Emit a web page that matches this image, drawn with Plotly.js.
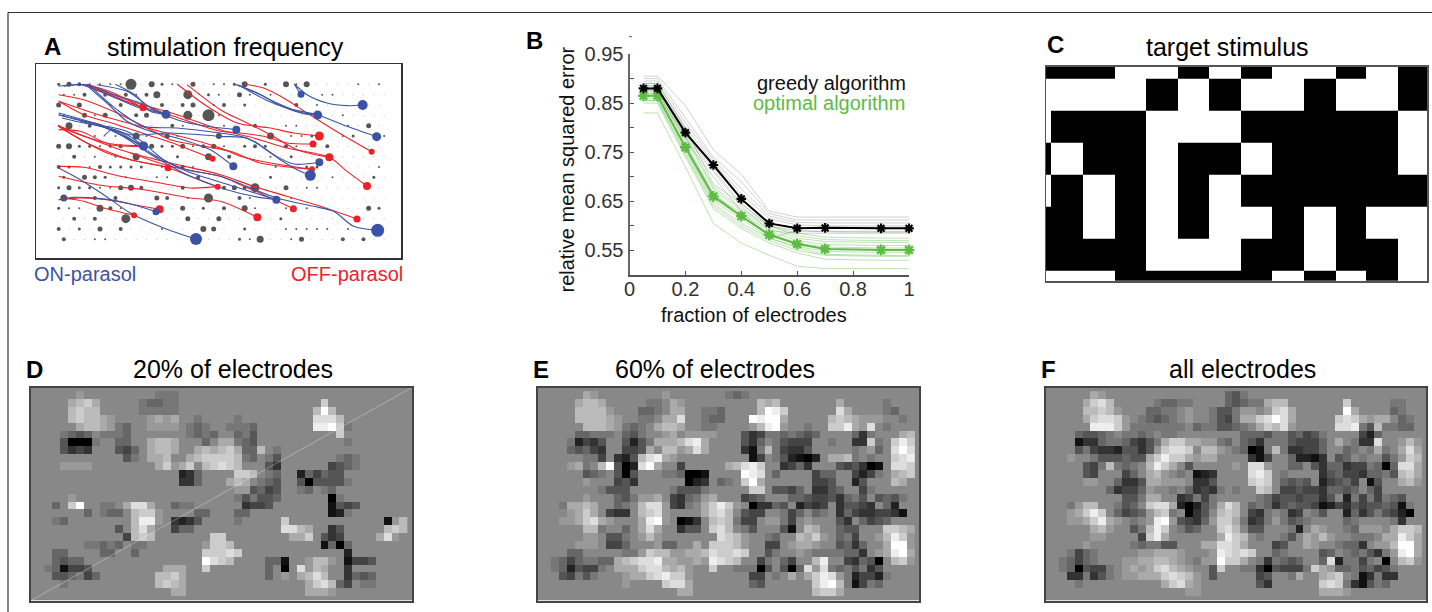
<!DOCTYPE html>
<html><head><meta charset="utf-8">
<script src="https://cdn.plot.ly/plotly-3.0.1.min.js"></script>
<style>html,body{margin:0;padding:0;background:#fff}#chart{width:1432px;height:612px}</style>
</head><body><div id="chart"></div>
<script>
// Panel A: electrode sizes per row (digit = size class), two offset lattices
const electrodeRows = [
"24311118052104011250205150000101",
"11303031360070210410100001100000",
"40400130203034013020000301000000",
"10414003400070910000000000010000",
"16030000000310101003001100001040",
"00010106104100050000601120012001",
"45221230042241341023203100300000",
"03010106010200603000102000000000",
"32013222201031000000010022000001",
"20432010011003000000200000100020",
"24221145300030003437004011000000",
"60030300043010700310001000000000",
"21106310000040203051001010000042",
"03030070000040040000020000000000",
"30204030001000540020001111101000",
"30011000000000000216001400030300"
];
const electrodeDiameter = [1.2,2,3,4,5,6,7,9,11,12];
// Panel A: retinal ganglion cell somas
const onSomaX  = [842,1027,892,437,648,1069,370,639,897,870,768,407,527,1072];
const onSomaY  = [224,256,286,284,330,351,379,440,428,467,540,576,658,632];
const onSomaD  = [7,10,9,9,8,9,9,8,8,11,8,7,12,13];
const offSomaX = [368,897,878,1054,927,577,443,875,1040,592,819,711,1010,418,341,368];
const offSomaY = [264,349,373,396,413,417,444,449,499,501,567,593,598,569,587,378];
const offSomaD = [7,9,7,6,8,6,7,6,8,6,7,8,7,8,6,8];
// Panel A: axon traces [x,y,x,y,...]
const onAxons = [
[822,193,835,215,842,224],
[822,193,860,225,920,250,980,258,1027,256],
[640,193,700,215,770,250,840,278,892,286],
[650,195,720,225,790,262,850,282,892,286],
[655,196,735,240,800,265,892,286,980,320,1069,351],
[130,200,200,195,280,225,360,250,437,284],
[115,200,180,195,270,228,350,262,437,284],
[285,194,350,230,390,275,437,284],
[230,195,320,215,400,270,470,300,560,320,648,330],
[205,195,290,270,370,320,470,325,600,340,660,350,710,370,760,405,820,433,897,428],
[115,280,250,318,330,345,450,340,600,350,680,355,730,385,780,420,840,455,870,467],
[208,205,260,250,320,305,390,335,470,355,570,390,639,440],
[115,285,170,300,240,315,300,345,370,379],
[125,295,190,310,250,322,310,350,370,379],
[250,350,275,330,320,345,370,379],
[115,285,240,318,300,345,400,410,500,465,620,510,700,530,768,540],
[180,305,300,340,400,405,500,455,640,500,768,540],
[260,320,330,340,430,420,500,450,600,470,770,535,880,560,940,575,1000,620,1072,632],
[115,540,160,533,240,537,320,550,407,576],
[115,445,180,480,250,525,330,580,430,625,527,658]
];
const offAxons = [
[200,194,280,220,368,265],
[195,195,270,225,330,250,368,264],
[470,193,560,260,650,310,750,325,820,340,897,349],
[500,195,600,270,680,310,750,345,830,390,927,413],
[675,194,730,205,790,235,860,280,940,330,1054,396],
[200,195,350,250,470,285,600,330,700,355,800,385,927,413,980,455,1040,499],
[190,195,330,250,460,290,600,335,660,340,730,350,800,370,878,373],
[115,245,250,290,400,330,500,355,600,385,660,410,750,430,875,449],
[115,245,190,285,290,315,380,345,470,375,577,417],
[115,320,190,365,260,400,350,425,442,443],
[115,320,190,350,270,372,368,378],
[115,330,180,335,270,375,368,380],
[115,320,200,370,330,420,430,440,510,470,592,501],
[330,400,450,440,600,470,660,495,730,525,819,567],
[115,318,300,390,450,430,600,465,700,500,800,530,900,560,1010,598],
[115,470,230,495,370,510,510,535,600,545,711,593],
[115,440,190,443,300,470,420,490,510,505,592,501],
[115,225,190,240,290,280,370,320,450,360,630,395,720,430,875,449],
[115,540,180,535,260,540,340,555,418,569],
[130,535,190,545,250,565,341,587]
];
// Panel B: fraction of electrodes vs error
const fractions = [0.05,0.1,0.2,0.3,0.4,0.5,0.6,0.7,0.9,1];
const greedyMean  = [.88,.88,.79,.724,.655,.605,.595,.596,.595,.595];
const optimalMean = [.865,.865,.76,.66,.62,.582,.563,.553,.551,.551];
const greedyRuns = [
[.905,.905,.845,.755,.705,.63,.618,.618,.618,.618],
[.90,.90,.82,.74,.69,.625,.612,.612,.612,.612],
[.895,.895,.81,.735,.675,.62,.607,.606,.606,.606],
[.89,.89,.80,.73,.665,.615,.602,.600,.600,.600],
[.885,.885,.795,.72,.655,.605,.595,.597,.597,.597],
[.88,.88,.785,.715,.645,.6,.59,.589,.589,.589],
[.875,.875,.775,.70,.63,.575,.59,.588,.587,.587],
[.87,.87,.78,.71,.64,.59,.585,.585,.585,.585]
];
const optimalRuns = [
[.89,.89,.80,.685,.645,.60,.585,.577,.575,.575],
[.885,.885,.785,.68,.635,.60,.58,.572,.57,.57],
[.88,.88,.78,.675,.63,.595,.575,.568,.566,.566],
[.875,.875,.77,.665,.625,.59,.57,.562,.56,.56],
[.87,.87,.765,.665,.62,.585,.565,.557,.555,.555],
[.865,.865,.76,.655,.62,.58,.565,.553,.552,.552],
[.86,.86,.755,.65,.615,.575,.558,.548,.546,.546],
[.855,.855,.75,.645,.605,.575,.555,.542,.54,.54],
[.855,.855,.745,.64,.60,.57,.55,.54,.538,.538],
[.85,.85,.74,.635,.595,.565,.545,.532,.53,.53],
[.83,.83,.72,.605,.565,.54,.518,.513,.513,.513]
];
const bTickVals = [.55,.6,.65,.7,.75,.8,.85,.9,.95];
const bTickText = ['0.55','','0.65','','0.75','','0.85','','0.95'];
const bXTicks = [0,.2,.4,.6,.8,1];
const bXText = ['0','0.2','0.4','0.6','0.8','1'];
// Panel C: target stimulus, 1 = black
const targetXEdges = [48,63,158,254,349,444,536,631,726,821,917,1008,1103,1190];
const targetYEdges = [140,176,271,367,463,559,655,751,783];
const targetRows = [
"1110010100101" ,
"0000101001001",
"0111000111110",
"1011011011110",
"0101010111111",
"1101010010100",
"1111000110110",
"0001111101010"
];
// Panels D, E, F: reconstructions; "col:hexlevels" runs, unlisted cells are mid grey (8)
const recon20 = [
"4:9 14:777","3:abca 12:76677 35:c","3:bcbb 11:877777 34:bfb","3:bcbba9 11:8 13:9a9a 18:87 24:7 34:dddb",
"4:abba9 9:76 13:9999 18:767 23:7776 34:eefc7","2:7656 7:7776 18:7676 24:675 37:c",
"2:50007 9:66 13:abba 19:86 22:aa765 38:7","2:5343 9:546 13:abba 19:ababca66 27:b 29:7",
"10:57 13:aab 18:abccccb76 28:75 37:767","2:9999 13:8ac9ac 20:bcdcb 28:53 36:4567",
"17:236 24:ccb 28:76 32:264655","17:336 23:aba 27:765 32:505555 38:7",
"24:9956 28:45 32:76 35:76","3:9 24:757556 36:07","1:68cf8 7:77 10:adda 16:677 25:3445 36:1545",
"0:8 4:86 7:766 11:bcc9 19:66 24:66 36:127","1:76 11:bee9 16:3235 24:7 30:c 43:19b",
"9:5 11:bda 16:466 30:ddba 35:8 36:35 43:bcb","10:4 11:bcb 21:cc 31:aac 35:534 42:ad9",
"5:77676 11:77 20:9ccb 35:1606","1:66 7:66 11:6 20:cccdc 38:2","1:6566 20:fdcb 28:6618 33:9bb9 38:1445",
"0:761445 15:aaa 20:c 28:6 30:0 32:d9ba 38:3","1:556746 14:bbca 28:6 30:9 32:abdb 38:3656",
"2:7888 14:bcba 33:acdb64 40:77","16:aa 33:aaa9"
];
const recon60 = [
"4:a9 14:98 21:8767","3:abba 12:778a9 20:888 26:bab 36:a 42:78","3:bbbb9 11:6678aa 19:7768 26:bfec 36:da 42:768",
"3:bbbba9 11:778aad 19:7668 25:feffa 35:bcba999 43:87","4:bbba9 9:767 13:abba 18:877 24:89bef9 32:7 35:ccea9d87",
"3:66777 9:657 13:89a 17:9999 24:5347767656 38:6378 44:ab","2:724358 9:5257 13:aaabdea 24:536 28:75444 35:7 38:33c7 43:cec",
"2:656438 9:445a 14:bb9ada 24:317b74335 38:7 40:96 43:dfd","3:8774 8:325bdea9 20:88 25:14 28:752102 35:aab7 40:7 43:cde",
"2:9a78bf502dfa8 16:4 22:abdec 29:3463 36:545301 43:ddc","4:567 8:505 13:8776 17:001 24:fed 28:6 33:466 38:4247 43:abc",
"4:9 8:453 17:023 21:678cfa 33:445 38:25 43:ba","6:7555 15:75557 25:cc 28:5546 33:3356 39:47",
"3:89 8:657 11:99a 15:43679a 24:456 30:665445 36:3675 41:5657",
"1:7aaba8 8:67 11:bdd9 15:437 19:acec9 25:03365 31:2434 36:35543 42:62",
"0:889aca 7:433 11:bcd9 19:acdb 24:5448 29:746 33:67 36:364334431",
"1:99acda9 11:aef9 16:013 20:bcb744 27:9974 32:9 36:53 39:6456",
"4:bb7 8:86 11:ada 16:355 20:cdb 24:75 28:8518ba 36:655 41:8ccba",
"4:99 7:55789b9 15:88 19:8 21:dcb9 27:76 31:bac9 36:674 41:9bec9",
"3:999 7:446 12:89668 18:a 20:cccb9 27:44 30:9aa9 36:5636 42:aff9",
"2:668 8:8779cbb99aabdccdc 27:57 30:8987777663 41:9aefa",
"0:76467766abcddeaa99a9edcb 26:47864 33:be 37:43650 42:8bc9",
"0:7625447 8:aaacddbab9 19:8c 22:8777058506d9d76757358",
"1:54757 9:9aacdecc9 25:44 28:78a 32:aced9724427",
"1:888 9:9 14:cdda 25:65 33:cefb71476","16:aa 33:bcca"
];
const reconAll = [
"4:a9 14:88 21:657","3:acdb 12:76677 20:865677abb 36:c 42:77","3:bbcb9 11:667789 19:755799 26:9cda 36:fa 42:67",
"3:acddc987656789 19:7547aacdfda 35:cdca9aa 43:678","4:eeec9 9:7777777867755678acbd9 35:dde75b7766",
"2:6556787767 13:778888 23:66657756457 38:42688","1:813367764357accaa9976 23:65377754446 35:a 37:733d8 43:9b9",
"1:857433255359cddc8bb9876017b733446 35:867 39:7a7 43:ada","1:9 4:7555655acecca9aa8 22:8 24:314 28:862213 35:5687 40:8579cb",
"3:547b767 11:beca 16:58 22:98dd9 29:66 32:53663447606dda","3:548 7:846 11:ab9878123 24:dec 28:7 33:3564436675bca",
"3:998 7:6335aa999 17:335 24:cdc 28:6565 33:245648158 43:ab9","6:634469 14:786343787 24:8cb 28:4454436656 39:648",
"3:88 8:557aa 14:8347478 23:8 25:7645545535 36:274747658","1:79bb8 7:756 11:cdda20257adb86763565541243545565178",
"0:89acec864569bc7 16:035 20:bcb84378734 32:75 36:2635754208","1:99acea9 9:7 11:9ef954369cca734797567 36:67 42:738",
"4:ab9 9:57bec8756 20:cdb855 28:8728a9 36:769998accb","4:99 10:4cea8 19:8aecb 25:7 28:75 31:a9b9 36:8777 41:aaeca",
"3:9 9:767755 18:aaddca 27:45 31:a9 35:7663899bffa","1:7467 10:99aaa9 19:9edcdc 27:67 33:568 36:7675379efa",
"0:76467 8:99aabba98799fcca 25:737656 33:6d27747808bc9","0:7605447 8:9a9acdba9 19:5c 22:8773054447ca966756457",
"1:337357 8:99aaacdcb9 19:5 25:45 28:87a8 33:abc87137338","1:8788 13:acda9 25:53888 33:cdc731576","16:99 33:aaa9"
];

const W = 1432, H = 612;
const dom = (a, b, n) => [a / n, b / n];
const ydom = (t, b) => [1 - b / H, 1 - t / H];
const FONT = '"Liberation Sans", Arial, sans-serif';
const BLUE = '#3b53a4', RED = '#ed2128', GREEN = '#5dbb46', DARK = '#565656', MID = '#888888';

function parseGrid(rows) {
  return rows.map(r => {
    const a = Array(46).fill(8);
    r.split(' ').filter(Boolean).forEach(run => {
      const [c, h] = run.split(':');
      [...h].forEach((ch, i) => { a[+c + i] = parseInt(ch, 16); });
    });
    return a;
  });
}
function pairs(a) {
  const x = [], y = [];
  for (let i = 0; i < a.length; i += 2) { x.push(a[i]); y.push(a[i + 1]); }
  return {x, y};
}
const data = [];
// Panel A
const ex = [], ey = [], es = [], ec = [];
electrodeRows.forEach((row, r) => {
  [...row].forEach((ch, k) => {
    ex.push((r % 2 ? 130.5 : 115) + 31 * k);
    ey.push(194 + 31 * r);
    es.push(electrodeDiameter[+ch]);
    ec.push(ch === '0' ? '#c4c4c4' : DARK);
  });
});
data.push({type:'scatter', mode:'markers', x:ex, y:ey, xaxis:'x', yaxis:'y', hoverinfo:'skip',
  marker:{size:es, color:ec, opacity:1, line:{width:0}}});
offAxons.forEach(a => { const p = pairs(a);
  data.push({type:'scatter', mode:'lines', x:p.x, y:p.y, xaxis:'x', yaxis:'y', hoverinfo:'skip',
    line:{color:RED, width:1.1, shape:'spline', smoothing:0.8}}); });
onAxons.forEach(a => { const p = pairs(a);
  data.push({type:'scatter', mode:'lines', x:p.x, y:p.y, xaxis:'x', yaxis:'y', hoverinfo:'skip',
    line:{color:BLUE, width:1.1, shape:'spline', smoothing:0.8}}); });
data.push({type:'scatter', mode:'markers', x:offSomaX, y:offSomaY, xaxis:'x', yaxis:'y', hoverinfo:'skip',
  marker:{size:offSomaD, color:RED, opacity:1, line:{width:0}}});
data.push({type:'scatter', mode:'markers', x:onSomaX, y:onSomaY, xaxis:'x', yaxis:'y', hoverinfo:'skip',
  marker:{size:onSomaD, color:BLUE, opacity:1, line:{width:0}}});
// Panel B
greedyRuns.forEach(v => data.push({type:'scatter', mode:'lines', x:fractions, y:v, xaxis:'x2', yaxis:'y2',
  hoverinfo:'skip', line:{color:'rgba(120,120,120,0.35)', width:1}}));
optimalRuns.forEach(v => data.push({type:'scatter', mode:'lines', x:fractions, y:v, xaxis:'x2', yaxis:'y2',
  hoverinfo:'skip', line:{color:'rgba(93,187,70,0.42)', width:1}}));
data.push({type:'scatter', mode:'lines+markers', x:fractions, y:optimalMean, xaxis:'x2', yaxis:'y2', cliponaxis:false,
  hoverinfo:'skip', line:{color:GREEN, width:2}, marker:{symbol:'asterisk-open', size:9, line:{color:GREEN, width:2.4}, color:GREEN}});
data.push({type:'scatter', mode:'lines+markers', x:fractions, y:greedyMean, xaxis:'x2', yaxis:'y2', cliponaxis:false,
  hoverinfo:'skip', line:{color:'#000', width:2}, marker:{symbol:'asterisk-open', size:8, line:{color:'#000', width:2.1}, color:'#000'}});
// Panel C
const BW = [[0,'#ffffff'],[1,'#000000']];
data.push({type:'heatmap', x:targetXEdges, y:targetYEdges, z:targetRows.map(r => [...r].map(Number)),
  xaxis:'x3', yaxis:'y3', colorscale:BW, zmin:0, zmax:1, showscale:false, hoverinfo:'skip'});
// Panels D, E, F
const GREY = [[0,'#000000'],[1,'#ffffff']];
[[recon20,'x4','y4'],[recon60,'x5','y5'],[reconAll,'x6','y6']].forEach(([rows,xa,ya]) => {
  data.push({type:'heatmap', z:parseGrid(rows), xaxis:xa, yaxis:ya, colorscale:GREY, zmin:0, zmax:15,
    showscale:false, zsmooth:false, hoverinfo:'skip'});
});
const XR = [-2.19, 46.04], YR = [26.04, -0.96];
data.push({type:'scatter', mode:'lines', x:XR, y:YR, xaxis:'x4', yaxis:'y4', hoverinfo:'skip',
  line:{color:'rgba(255,255,255,0.45)', width:0.7}});

const framed = (xd, xr, anchor, col, w) => ({domain:xd, range:xr, anchor, showline:true, mirror:true,
  linecolor:col, linewidth:w, showgrid:false, zeroline:false, ticks:'', showticklabels:false, fixedrange:true});
const grayPanel = (xa, ya) => ({type:'rect', xref:xa, yref:ya, x0:XR[0], x1:XR[1], y0:YR[0], y1:YR[1],
  fillcolor:MID, line:{width:0}, layer:'below'});
const layout = {
  width:W, height:H, margin:{l:0,r:0,t:0,b:0}, paper_bgcolor:'#fff', plot_bgcolor:'#fff',
  showlegend:false, font:{family:FONT, size:20, color:'#000'},
  xaxis: framed(dom(36,401,W),[47,1142],'y','#333',1.5),
  yaxis: framed(ydom(64,258),[715,133],'x','#333',1.5),
  xaxis2:{domain:dom(629.5,909,W), range:[0,1], anchor:'y2', showline:true, linecolor:'#555', linewidth:1.5,
    ticks:'inside', ticklen:4, tickcolor:'#555', tickvals:bXTicks, ticktext:bXText, showgrid:false, zeroline:false,
    ticklabelstandoff:-5, tickfont:{size:20,color:'#333'}, fixedrange:true},
  yaxis2:{domain:ydom(54,275), range:[0.5,0.95], anchor:'x2', showline:true, linecolor:'#666', linewidth:2,
    ticks:'inside', ticklen:4, tickcolor:'#555', tickvals:bTickVals, ticktext:bTickText, showgrid:false, zeroline:false,
    ticklabelshift:-2.5, tickfont:{size:20,color:'#333'}, fixedrange:true},
  xaxis3: framed(dom(1046,1427,W),[48,1190],'y3','#555',1.5),
  yaxis3: framed(ydom(66.7,281),[783,140],'x3','#555',1.5),
  xaxis4: framed(dom(31,412,W),XR,'y4','#444',2),
  yaxis4: framed(ydom(387.5,600.5),YR,'x4','#444',2),
  xaxis5: framed(dom(537.5,919,W),XR,'y5','#444',2),
  yaxis5: framed(ydom(387.5,600.5),YR,'x5','#444',2),
  xaxis6: framed(dom(1045.5,1426,W),XR,'y6','#444',2),
  yaxis6: framed(ydom(387.5,600.5),YR,'x6','#444',2),
  shapes:[
    {type:'line', xref:'paper', yref:'paper', x0:629/W, x1:632/W, y0:1-36.7/H, y1:1-36.7/H, line:{color:'#555',width:1}},
    {type:'line', xref:'paper', yref:'paper', x0:8/W, x1:1, y0:1-12.5/H, y1:1-12.5/H, line:{color:'#333',width:1.2}},
    {type:'line', xref:'paper', yref:'paper', x0:8/W, x1:8/W, y0:0, y1:1-12.5/H, line:{color:'#333',width:1.2}},
    grayPanel('x4','y4'), grayPanel('x5','y5'), grayPanel('x6','y6')
  ],
  annotations:[
    ['stimulation frequency',226,47,25,'#000',false],['target stimulus',1227,47,25,'#000',false],
    ['20% of electrodes',233,369,25,'#000',false],['60% of electrodes',715,369,25,'#000',false],['all electrodes',1242,369,25,'#000',false],
    ['A',52,47,24,'#000',true],['B',534,41,24,'#000',true],['C',1055,45,24,'#000',true],
    ['D',34,369,24,'#000',true],['E',541,369,24,'#000',true],['F',1048,369,24,'#000',true],
    ['ON-parasol',85,274,20,BLUE,false],['OFF-parasol',347,274,20,RED,false],
    ['fraction of electrodes',754,315,20,'#111',false]
  ].map(([t,x,y,s,c,b]) => ({text:b?'<b>'+t+'</b>':t, x:x/W, y:1-y/H, xref:'paper', yref:'paper', showarrow:false,
    xanchor:'center', yanchor:'middle', font:{size:s,color:c,family:FONT}})).concat([
    {text:'relative mean squared error', x:566.5/W, y:1-170/H, xref:'paper', yref:'paper', showarrow:false, xanchor:'center', yanchor:'middle', textangle:-90, font:{size:20,color:'#111',family:FONT}},
    {text:'greedy algorithm', x:908/W, y:1-83/H, xref:'paper', yref:'paper', showarrow:false, xanchor:'right', yanchor:'middle', font:{size:20,color:'#111',family:FONT}},
    {text:'optimal algorithm', x:907/W, y:1-103/H, xref:'paper', yref:'paper', showarrow:false, xanchor:'right', yanchor:'middle', font:{size:20,color:GREEN,family:FONT}}
  ])
};
Plotly.newPlot('chart', data, layout, {displayModeBar:false, staticPlot:true});
</script></body></html>
